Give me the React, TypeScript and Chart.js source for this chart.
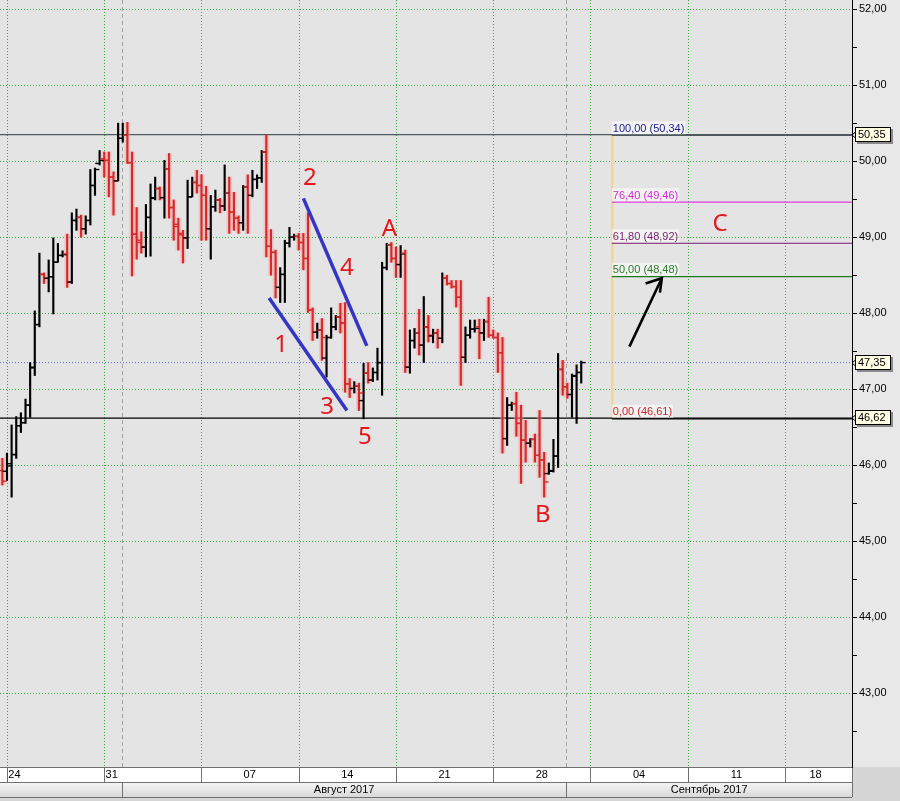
import React, { useEffect, useRef } from 'react';
import { Chart, registerables } from 'chart.js';

Chart.register(...registerables);

// ---------- data ----------
const FIRST_BAR = -1;
const barOpen = [
  45.93, 45.92, 46.02, 46.14, 46.52, 46.56, 46.79, 47.29, 47.85, 48.51,
  48.46, 48.48, 48.67, 48.76, 48.78, 48.41, 49.22, 49.26, 49.11, 49.22,
  49.68, 49.97, 50.03, 50.01, 49.79, 49.74, 50.30, 50.34, 49.98, 49.04,
  48.96, 48.87, 49.26, 49.51, 49.64, 49.52, 49.90, 49.39, 49.17, 49.05,
  48.99, 49.53, 49.72, 49.68, 49.55, 49.11, 49.40, 49.49, 49.41, 49.58,
  49.33, 49.25, 49.19, 49.66, 49.55, 49.76, 49.78, 50.12, 48.88, 48.80,
  48.34, 48.51, 48.92, 49.00, 49.01, 48.93, 48.72, 48.04, 47.75, 47.78,
  47.41, 47.68, 47.82, 47.95, 47.87, 47.07, 47.01, 47.04, 46.85, 47.21,
  47.12, 47.22, 47.35, 48.60, 48.90, 48.72, 48.64, 48.79, 47.29, 47.64,
  47.74, 47.58, 47.82, 47.70, 47.74, 47.67, 48.46, 48.39, 48.35, 48.21,
  47.42, 47.71, 47.79, 47.82, 47.74, 47.89, 47.71, 47.68, 47.48, 46.35,
  46.79, 46.81, 46.55, 46.33, 46.29, 46.34, 46.13, 46.07, 45.89, 45.92,
  46.12, 47.26, 47.03, 46.93, 47.17, 47.22,
];
const barHigh = [
  46.09, 46.16, 46.53, 46.64, 46.69, 46.87, 47.35, 48.03, 48.79, 48.53,
  48.70, 48.99, 48.92, 48.82, 49.04, 49.32, 49.37, 49.29, 49.28, 49.89,
  49.91, 50.14, 50.12, 50.12, 49.86, 50.50, 50.50, 50.51, 50.12, 49.39,
  49.07, 49.43, 49.70, 49.79, 49.66, 50.01, 50.10, 49.49, 49.25, 49.09,
  49.75, 49.79, 49.88, 49.82, 49.67, 49.55, 49.62, 49.51, 49.95, 49.79,
  49.59, 49.28, 49.68, 49.82, 49.88, 49.82, 50.14, 50.34, 49.10, 48.83,
  48.60, 48.96, 49.13, 49.04, 49.05, 49.05, 49.32, 48.07, 47.87, 47.93,
  47.71, 48.07, 47.97, 48.13, 48.14, 47.14, 47.10, 47.08, 47.34, 47.35,
  47.28, 47.54, 48.67, 48.92, 48.93, 48.87, 48.89, 48.83, 47.78, 47.80,
  48.05, 48.22, 47.97, 47.79, 47.79, 48.53, 48.50, 48.43, 48.43, 48.43,
  47.82, 47.91, 47.91, 47.92, 47.92, 48.21, 47.78, 47.74, 47.68, 46.89,
  46.83, 46.96, 46.79, 46.59, 46.35, 46.41, 46.72, 46.17, 46.03, 46.34,
  47.47, 47.38, 47.08, 47.20, 47.32, 47.37,
];
const barLow = [
  45.74, 45.80, 45.58, 46.09, 46.43, 46.55, 46.63, 47.18, 47.82, 48.39,
  48.28, 47.99, 48.67, 48.74, 48.34, 48.39, 49.09, 49.00, 49.04, 49.16,
  49.55, 49.95, 49.79, 49.53, 49.29, 49.74, 50.25, 49.97, 48.49, 48.71,
  48.79, 48.74, 48.75, 49.49, 49.49, 49.25, 49.25, 48.96, 48.83, 48.66,
  48.85, 49.53, 49.58, 48.96, 48.96, 48.71, 49.34, 49.32, 49.35, 49.05,
  49.09, 49.05, 49.09, 49.05, 49.53, 49.64, 49.72, 48.74, 48.50, 48.20,
  48.14, 48.14, 48.87, 48.96, 48.83, 48.57, 48.01, 47.64, 47.67, 47.38,
  47.16, 47.67, 47.78, 47.74, 46.96, 46.89, 46.95, 46.72, 46.61, 47.08,
  47.10, 47.12, 46.92, 48.57, 48.67, 48.47, 48.47, 47.22, 47.21, 47.54,
  47.45, 47.35, 47.62, 47.61, 47.54, 47.61, 48.37, 48.33, 48.08, 47.05,
  47.35, 47.67, 47.75, 47.40, 47.64, 47.68, 47.67, 47.22, 46.16, 46.26,
  46.72, 46.38, 45.76, 46.04, 46.24, 46.04, 45.84, 45.58, 45.88, 45.91,
  45.97, 46.92, 46.88, 46.63, 46.55, 47.08,
];
const barClose = [
  45.79, 45.99, 46.14, 46.52, 46.56, 46.79, 47.28, 47.85, 48.51, 48.46,
  48.48, 48.67, 48.76, 48.77, 48.41, 49.22, 49.26, 49.11, 49.22, 49.68,
  49.89, 50.01, 50.01, 49.79, 49.74, 50.30, 50.34, 49.98, 49.04, 48.93,
  48.87, 49.26, 49.52, 49.64, 49.52, 49.90, 49.39, 49.14, 49.03, 48.99,
  49.53, 49.72, 49.68, 49.55, 49.11, 49.40, 49.49, 49.41, 49.58, 49.33,
  49.25, 49.19, 49.66, 49.55, 49.76, 49.78, 50.12, 48.88, 48.80, 48.34,
  48.51, 48.92, 49.00, 49.01, 48.93, 48.72, 48.04, 47.75, 47.78, 47.68,
  47.68, 47.82, 47.95, 47.87, 47.07, 47.01, 47.04, 46.95, 47.21, 47.12,
  47.22, 47.35, 48.60, 48.90, 48.72, 48.64, 48.78, 47.29, 47.64, 47.74,
  47.58, 47.82, 47.71, 47.74, 47.67, 48.46, 48.39, 48.35, 48.21, 47.42,
  47.71, 47.79, 47.80, 47.74, 47.89, 47.71, 47.68, 47.48, 46.35, 46.79,
  46.81, 46.55, 46.33, 46.29, 46.34, 46.13, 46.07, 45.78, 45.93, 46.12,
  47.26, 47.03, 46.93, 47.18, 47.22, 47.35,
];

// axes
const X_MIN = -1.51;
const X_MAX = 182.47;
const Y_MIN = 42.03;
const Y_MAX = 52.12;
const yTickValues = [42.5, 43, 43.5, 44, 44.5, 45, 45.5, 46, 46.5, 47, 47.5, 48, 48.5, 49, 49.5, 50, 50.5, 51, 51.5, 52];
const yGridValues = [43, 44, 45, 46, 47, 48, 49, 50, 51, 52];
const weekStarts = [0, 21, 42, 63, 84, 105, 126, 147, 168];
const weekLabels = ['24', '31', '07', '14', '21', '28', '04', '11', '18'];
const weekLabelPos = [1.6, 22.6, 52.4, 73.5, 94.5, 115.5, 136.5, 157.5, 174.6];
const monthStarts = [24.8, 120.8];
const monthLabels = ['Август 2017', 'Сентябрь 2017'];

// horizontal marked levels
const markedLevels = [50.35, 47.35, 46.62];
const markedColors = ['#4f5860', '#5a6ad0', '#000000'];
const markedDash = [[], [1, 2], []];

// fibonacci
const fibStartX = 130.6;
const fibPercents = [100, 76.4, 61.8, 50, 0];
const fibPrices = [50.34, 49.46, 48.92, 48.48, 46.61];
const fibLineColors = ['#4f5860', '#e03ce0', '#7a1a72', '#1f7a1f', '#000000'];
const fibTextColors = ['#1c1c8c', '#d42ad4', '#7a1f6e', '#2a7a2a', '#c82828'];

// wave annotations
const waveLabels = ['1', '2', '3', '4', '5', 'A', 'B', 'C'];
const waveLabelX = [59.2, 65.4, 69.1, 73.4, 77.3, 82.6, 115.7, 154.0];
const waveLabelY = [47.59, 49.79, 46.78, 48.61, 46.38, 49.12, 45.36, 49.18];
const wave13 = [{ x: 56.6, y: 48.2 }, { x: 73.4, y: 46.72 }];
const wave24 = [{ x: 64.0, y: 49.51 }, { x: 77.7, y: 47.57 }];
const arrowShaft = [{ x: 134.4, y: 47.56 }, { x: 141.4, y: 48.46 }];
const arrowHead = [{ x: 137.9, y: 48.39 }, { x: 141.4, y: 48.46 }, { x: 141.0, y: 48.27 }];

const fmt = (v: number) => v.toFixed(2).replace('.', ',');
const FONT = 'Liberation Sans';

const zeroPad = (s: any) => {
  s.paddingLeft = 0;
  s.paddingRight = 0;
  s.paddingTop = 0;
  s.paddingBottom = 0;
};

export default function App() {
  const ref = useRef<HTMLCanvasElement>(null);

  useEffect(() => {
    const canvas = ref.current;
    if (!canvas) return;
    const idx = barOpen.map((_, k) => FIRST_BAR + k);
    const isDown = barOpen.map((o, k) => barClose[k] < o);
    const colors = isDown.map((d) => (d ? '#d42a2a' : '#000000'));
    const hl = idx.map((x, k) => ({ x, y: [barLow[k], barHigh[k]] }));
    const glow = idx
      .map((x, k) => (isDown[k] ? { x, y: [barLow[k], barHigh[k]] } : null))
      .filter((v) => v !== null);
    const TICK_OFF = 0.47;
    const opens = idx.map((x, k) => ({ x: x - TICK_OFF, y: barOpen[k] }));
    const closes = idx.map((x, k) => ({ x: x + TICK_OFF, y: barClose[k] }));

    const lineDs = (data: any[], color: string, width: number, order: number, dash: number[] = []) => ({
      type: 'line' as const,
      data,
      borderColor: color,
      borderWidth: width,
      borderDash: dash,
      pointRadius: 0,
      pointHoverRadius: 0,
      fill: false,
      tension: 0,
      order,
    });

    const datasets: any[] = [
      lineDs(wave13, '#3535c4', 3.5, 0),
      lineDs(wave24, '#3535c4', 3.5, 0),
      lineDs(arrowShaft, '#000000', 2.6, 0),
      lineDs(arrowHead, '#000000', 2.6, 0),
      {
        type: 'scatter',
        data: opens,
        pointStyle: 'line',
        pointRadius: 2.2,
        pointHoverRadius: 2.2,
        pointBorderWidth: 1.4,
        pointBorderColor: colors,
        pointBackgroundColor: colors,
        order: 1,
      },
      {
        type: 'scatter',
        data: closes,
        pointStyle: 'line',
        pointRadius: 2.2,
        pointHoverRadius: 2.2,
        pointBorderWidth: 1.4,
        pointBorderColor: colors,
        pointBackgroundColor: colors,
        order: 1,
      },
      {
        type: 'bar',
        data: hl,
        backgroundColor: colors,
        barThickness: 1.5,
        grouped: false,
        order: 2,
      },
      {
        type: 'bar',
        data: glow,
        backgroundColor: 'rgba(255,150,150,0.4)',
        barThickness: 5,
        grouped: false,
        order: 3,
      },
    ];
    markedLevels.forEach((p, i) => {
      datasets.push(lineDs([{ x: X_MIN, y: p }, { x: X_MAX, y: p }], markedColors[i], i === 1 ? 1 : 1.2, 4, markedDash[i]));
    });
    fibPrices.forEach((p, i) => {
      datasets.push(lineDs([{ x: fibStartX, y: p }, { x: X_MAX, y: p }], fibLineColors[i], 1.2, 5));
    });
    datasets.push(
      lineDs([{ x: fibStartX + 0.1, y: fibPrices[0] }, { x: fibStartX + 0.1, y: fibPrices[fibPrices.length - 1] }], '#f2d28e', 2, 6),
    );

    const bgPlugin = {
      id: 'bgPlugin',
      beforeDraw(chart: any) {
        const { ctx, chartArea: a, width, height } = chart;
        const xs = chart.scales.x;
        ctx.save();
        ctx.fillStyle = '#d6d6d6';
        ctx.fillRect(0, 0, width, height);
        ctx.fillStyle = '#e4e4e4';
        ctx.fillRect(a.left, a.top, a.right - a.left, a.bottom - a.top);
        ctx.fillStyle = '#e8e8e8';
        ctx.fillRect(a.right, 0, width - a.right, a.bottom);
        // bottom rows
        const r1 = a.bottom;
        const r2 = a.bottom + 15;
        const r3 = a.bottom + 30;
        ctx.fillStyle = '#ffffff';
        ctx.fillRect(0, r1, a.right, 15);
        const g = ctx.createLinearGradient(0, r2, 0, r3);
        g.addColorStop(0, '#f6f6f6');
        g.addColorStop(1, '#d9d9d9');
        ctx.fillStyle = g;
        ctx.fillRect(0, r2, a.right, 15);
        ctx.strokeStyle = '#707070';
        ctx.lineWidth = 1;
        ctx.beginPath();
        ctx.moveTo(0, r1 + 0.5);
        ctx.lineTo(a.right, r1 + 0.5);
        ctx.moveTo(0, r2 + 0.5);
        ctx.lineTo(a.right, r2 + 0.5);
        ctx.moveTo(0, r3 + 0.5);
        ctx.lineTo(a.right, r3 + 0.5);
        weekStarts.forEach((w) => {
          const px = Math.round(xs.getPixelForValue(w)) + 0.5;
          ctx.moveTo(px, r1);
          ctx.lineTo(px, r2);
        });
        monthStarts.forEach((m) => {
          const px = Math.round(xs.getPixelForValue(m)) + 0.5;
          ctx.moveTo(px, r2);
          ctx.lineTo(px, r3);
        });
        ctx.moveTo(a.right + 0.5, r1);
        ctx.lineTo(a.right + 0.5, r3);
        ctx.stroke();
        ctx.fillStyle = '#000';
        ctx.font = `11px "${FONT}"`;
        ctx.textAlign = 'center';
        ctx.textBaseline = 'middle';
        monthLabels.forEach((lab, i) => {
          const x0 = xs.getPixelForValue(monthStarts[i]);
          const x1 = i + 1 < monthStarts.length ? xs.getPixelForValue(monthStarts[i + 1]) : a.right;
          ctx.fillText(lab, (x0 + x1) / 2, r2 + 7.5);
        });
        ctx.restore();
      },
      beforeDatasetsDraw(chart: any) {
        const { ctx, chartArea: a } = chart;
        const xs = chart.scales.x;
        const ys = chart.scales.y;
        ctx.save();
        ctx.lineWidth = 1;
        ctx.strokeStyle = 'rgba(30,165,30,0.9)';
        ctx.setLineDash([1, 2]);
        ctx.beginPath();
        yGridValues.forEach((v) => {
          const py = Math.round(ys.getPixelForValue(v)) + 0.5;
          ctx.moveTo(a.left, py);
          ctx.lineTo(a.right, py);
        });
        weekStarts.forEach((w) => {
          const px = Math.round(xs.getPixelForValue(w)) + 0.5;
          ctx.moveTo(px, a.top);
          ctx.lineTo(px, a.bottom);
        });
        ctx.stroke();
        ctx.strokeStyle = '#a0a0a0';
        ctx.setLineDash([4, 3]);
        ctx.beginPath();
        monthStarts.forEach((m) => {
          const px = Math.round(xs.getPixelForValue(m)) + 0.5;
          ctx.moveTo(px, a.top);
          ctx.lineTo(px, a.bottom);
        });
        ctx.stroke();
        ctx.restore();
      },
      afterDatasetsDraw(chart: any) {
        const { ctx, chartArea: a } = chart;
        const xs = chart.scales.x;
        const ys = chart.scales.y;
        ctx.save();
        // fib labels
        ctx.font = `11px "${FONT}"`;
        ctx.textAlign = 'left';
        ctx.textBaseline = 'bottom';
        fibPrices.forEach((p, i) => {
          const txt = `${fmt(fibPercents[i])} (${fmt(p)})`;
          const px = xs.getPixelForValue(fibStartX) + 1;
          const py = ys.getPixelForValue(p) - 1;
          const w = ctx.measureText(txt).width;
          ctx.fillStyle = 'rgba(255,255,255,0.55)';
          ctx.fillRect(px - 1, py - 13, w + 2, 13);
          ctx.fillStyle = fibTextColors[i];
          ctx.fillText(txt, px, py);
        });
        // wave labels
        ctx.font = `24px "Noto Sans"`;
        ctx.textAlign = 'center';
        ctx.textBaseline = 'middle';
        ctx.fillStyle = '#e3171c';
        waveLabels.forEach((lab, i) => {
          ctx.fillText(lab, xs.getPixelForValue(waveLabelX[i]), ys.getPixelForValue(waveLabelY[i]) + 1);
        });
        // price boxes
        ctx.font = `11px "${FONT}"`;
        ctx.textAlign = 'left';
        markedLevels.forEach((p) => {
          const py = Math.round(ys.getPixelForValue(p));
          const x0 = a.right + 3;
          ctx.fillStyle = '#8a8a8a';
          ctx.fillRect(x0 + 2, py - 6, 36, 15);
          ctx.fillStyle = '#ffffe4';
          ctx.fillRect(x0, py - 8, 36, 15);
          ctx.strokeStyle = '#000';
          ctx.lineWidth = 1;
          ctx.strokeRect(x0 + 0.5, py - 7.5, 35, 14);
          ctx.beginPath();
          ctx.moveTo(x0 + 0.5, py - 3);
          ctx.lineTo(a.right, py);
          ctx.lineTo(x0 + 0.5, py + 3);
          ctx.stroke();
          ctx.fillStyle = '#000';
          ctx.textBaseline = 'middle';
          ctx.fillText(fmt(p), x0 + 3, py);
        });
        ctx.restore();
      },
    };

    const chart = new Chart(canvas, {
      type: 'bar',
      data: { datasets },
      options: {
        responsive: false,
        maintainAspectRatio: false,
        animation: false,
        devicePixelRatio: 1,
        events: [],
        layout: { padding: 0, autoPadding: false },
        plugins: { legend: { display: false }, tooltip: { enabled: false } },
        scales: {
          x: {
            type: 'linear',
            min: X_MIN,
            max: X_MAX,
            offset: false,
            afterFit: (s: any) => {
              s.height = 34;
              zeroPad(s);
            },
            afterBuildTicks: (s: any) => {
              s.ticks = weekLabelPos.map((v) => ({ value: v }));
            },
            ticks: {
              autoSkip: false,
              maxRotation: 0,
              minRotation: 0,
              padding: 1,
              color: '#000',
              font: { family: FONT, size: 11 },
              callback: (_v: any, i: number) => weekLabels[i],
            },
            grid: { display: false, drawTicks: false },
            border: { display: false },
          },
          y: {
            type: 'linear',
            position: 'right',
            min: Y_MIN,
            max: Y_MAX,
            afterFit: (s: any) => {
              s.width = 48;
              zeroPad(s);
            },
            afterBuildTicks: (s: any) => {
              s.ticks = yTickValues.map((v) => ({ value: v }));
            },
            ticks: {
              autoSkip: false,
              padding: 2,
              color: '#000',
              font: { family: FONT, size: 11 },
              callback: (v: any) => (Math.abs(v - Math.round(v)) < 1e-6 ? fmt(v) : ''),
            },
            grid: { drawOnChartArea: false, drawTicks: true, tickLength: 5, tickColor: '#000', color: '#000' },
            border: { display: true, color: '#000', width: 1 },
          },
        },
      } as any,
      plugins: [bgPlugin],
    });
    return () => chart.destroy();
  }, []);

  return (
    <div style={{ position: 'absolute', left: 0, top: 0, width: 900, height: 801 }}>
      <canvas ref={ref} width={900} height={801} style={{ display: 'block' }} />
    </div>
  );
}
